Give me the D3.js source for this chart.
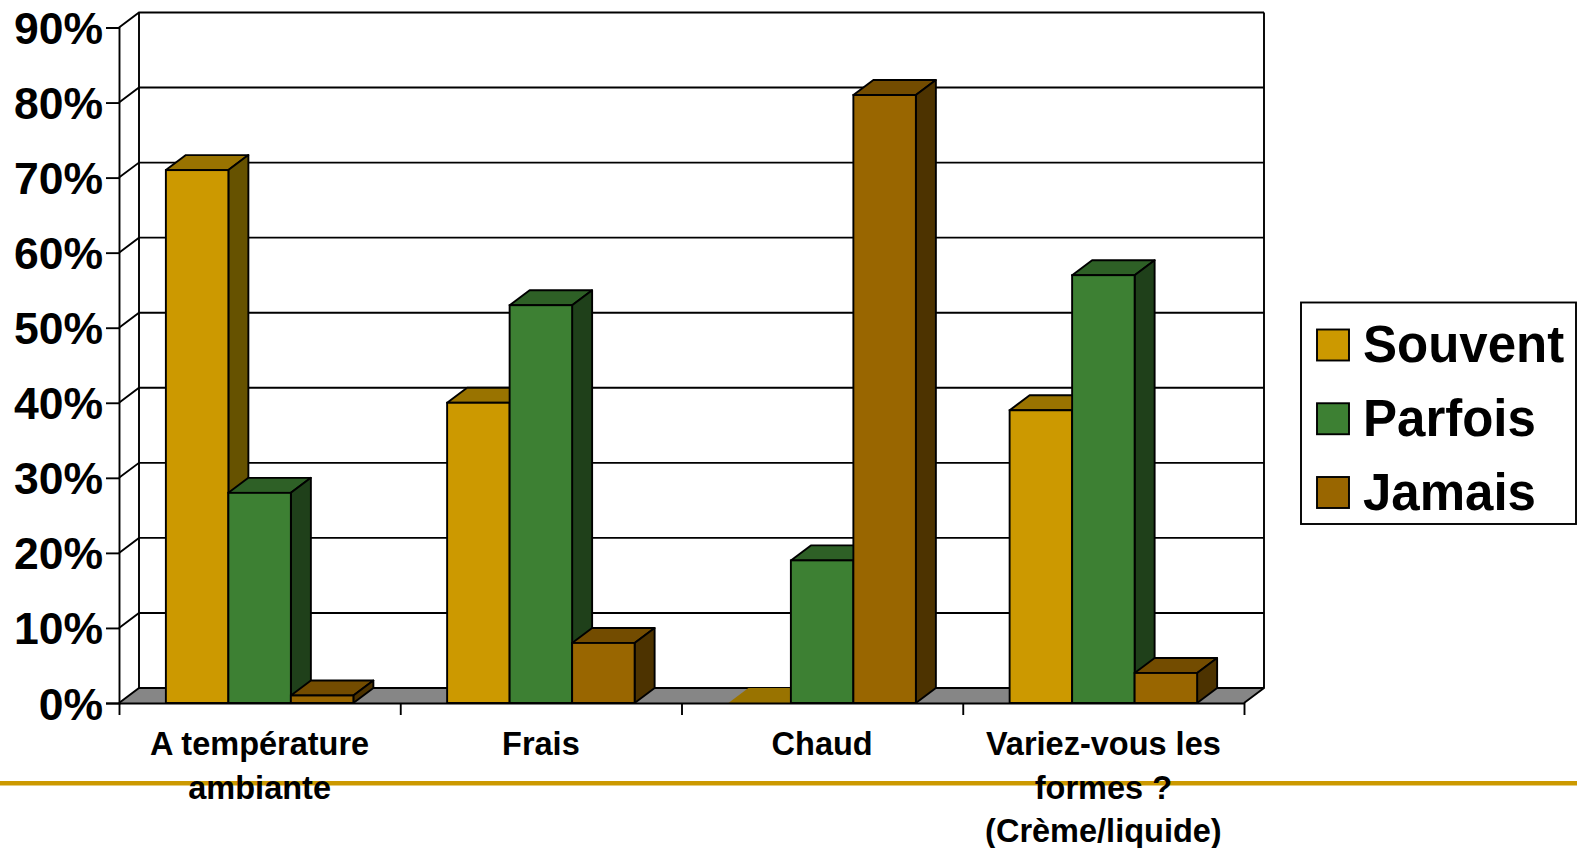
<!DOCTYPE html>
<html>
<head>
<meta charset="utf-8">
<style>
  html, body { margin: 0; padding: 0; background: #fff; }
  svg { display: block; }
  text { font-family: "Liberation Sans", Arial, sans-serif; font-weight: bold; fill: #000; }
</style>
<script src="https://cdn.jsdelivr.net/npm/d3@7"></script>
</head>
<body>
<div id="chart"></div>
<script>
// Values, in %
var categories = ["A température", "Frais", "Chaud", "Variez-vous"];
var categoryLines = [
  ["A température", "ambiante"],
  ["Frais"],
  ["Chaud"],
  ["Variez-vous les", "formes ?", "(Crème/liquide)"]
];
var seriesNames = ["Souvent", "Parfois", "Jamais"];
var souvent = [71, 40, 0, 39];
var parfois = [28, 53, 19, 57];
var jamais = [1, 8, 81, 4];
var seriesValues = [souvent, parfois, jamais];
var yTicks = [0, 10, 20, 30, 40, 50, 60, 70, 80, 90];

var front = ["#cc9900", "#3d8033", "#996600"];
var top3d = ["#997300", "#2e6026", "#734c00"];
var side = ["#665200", "#1f401a", "#4d3300"];

var width = 1577, height = 848;
var left = 119, right = 1244, bottom = 703, topY = 27.5;
var dx = 20, dy = 15;
var lw = 1.9;

var svg = d3.select("#chart").append("svg")
  .attr("width", width)
  .attr("height", height)
  .attr("viewBox", "0 0 " + width + " " + height);

var y = d3.scaleLinear().domain([0, 90]).range([bottom, topY]);
var x0 = d3.scaleBand().domain(categories).range([left, right]).paddingInner(1 / 3).paddingOuter(1 / 6);
var x1 = d3.scaleBand().domain(seriesNames).range([0, x0.bandwidth()]);
var edges = d3.scaleLinear().domain([0, categories.length]).range([left, right]);

function poly(pts) { return "M" + pts.map(function (p) { return p.join(","); }).join("L") + "Z"; }

// slide rule line sits under everything
svg.append("rect")
  .attr("x", 0).attr("y", 781).attr("width", width).attr("height", 4.5)
  .attr("fill", "#cc9900");

// floor
svg.append("path")
  .attr("d", poly([[left, y(0)], [left + dx, y(0) - dy], [right + dx, y(0) - dy], [right, y(0)]]))
  .attr("fill", "#868686").attr("stroke", "none");

// walls and gridlines
var grid = svg.append("g").attr("fill", "none").attr("stroke", "#000").attr("stroke-width", lw);
grid.selectAll("path.grid")
  .data(yTicks)
  .enter().append("path")
  .attr("class", "grid")
  .attr("d", function (d) {
    return "M" + left + "," + y(d) + "L" + (left + dx) + "," + (y(d) - dy) + "L" + (right + dx) + "," + (y(d) - dy);
  });
grid.append("path")
  .attr("d", "M" + (left + dx) + "," + (y(90) - dy) + "V" + (y(0) - dy) +
    "M" + (right + dx) + "," + (y(90) - dy) + "V" + (y(0) - dy) + "L" + right + "," + y(0));

// bars, left to right so each one overlaps the side of the previous
categories.forEach(function (cat, c) {
  var g = svg.append("g").attr("transform", "translate(" + x0(cat) + ",0)");
  seriesNames.forEach(function (name, s) {
    var v = seriesValues[s][c];
    var a = x1(name), b = a + x1.bandwidth(), yt = y(v), yb = y(0);
    var noBar = v === 0;
    var stroke = noBar ? "none" : "#000";
    g.append("path")
      .attr("d", poly([[a, yt], [a + dx, yt - dy], [b + dx, yt - dy], [b, yt]]))
      .attr("fill", top3d[s]).attr("stroke", stroke).attr("stroke-width", lw).attr("stroke-linejoin", "round");
    if (noBar) return;
    g.append("path")
      .attr("d", poly([[b, yt], [b + dx, yt - dy], [b + dx, yb - dy], [b, yb]]))
      .attr("fill", side[s]).attr("stroke", "#000").attr("stroke-width", lw).attr("stroke-linejoin", "round");
    g.append("rect")
      .attr("x", a).attr("y", yt).attr("width", b - a).attr("height", yb - yt)
      .attr("fill", front[s]).attr("stroke", "#000").attr("stroke-width", lw);
  });
});

// y axis
var yAxis = svg.append("g")
  .attr("transform", "translate(" + left + ",0)")
  .call(d3.axisLeft(y).tickValues(yTicks).tickFormat(function (d) { return d + "%"; }).tickSize(13).tickPadding(3));
yAxis.selectAll("path.domain").attr("stroke", "#000").attr("stroke-width", lw);
yAxis.selectAll("line").attr("stroke", "#000").attr("stroke-width", lw);
yAxis.selectAll("text")
  .attr("font-family", null).attr("font-size", 44.5).attr("dy", null).attr("y", 16);

// x axis, ticks on the category edges
var xAxis = svg.append("g")
  .attr("transform", "translate(0," + bottom + ")")
  .call(d3.axisBottom(edges).ticks(categories.length).tickFormat("").tickSize(12).tickSizeOuter(0));
xAxis.selectAll("path.domain").attr("stroke", "#000").attr("stroke-width", 2.2);
xAxis.selectAll("line").attr("stroke", "#000").attr("stroke-width", lw);

var labels = svg.append("g").attr("font-size", 32.5).attr("text-anchor", "middle");
categories.forEach(function (cat, c) {
  labels.append("g").selectAll("text")
    .data(categoryLines[c])
    .enter().append("text")
    .attr("x", x0(cat) + x0.bandwidth() / 2)
    .attr("y", function (d, i) { return 755 + i * 43.5; })
    .text(function (d) { return d; });
});

// legend
var legend = svg.append("g");
legend.append("rect")
  .attr("x", 1301).attr("y", 302.5).attr("width", 275).attr("height", 221.5)
  .attr("fill", "#fff").attr("stroke", "#000").attr("stroke-width", lw);
var legendY = d3.scalePoint().domain(seriesNames).range([329.5, 477]);
var item = legend.selectAll("g.item")
  .data(seriesNames)
  .enter().append("g")
  .attr("class", "item")
  .attr("transform", function (d) { return "translate(1317," + legendY(d) + ")"; });
item.append("rect")
  .attr("width", 32).attr("height", 31)
  .attr("fill", function (d, i) { return front[i]; })
  .attr("stroke", "#000").attr("stroke-width", lw);
item.append("text")
  .attr("x", 46).attr("y", 32.5)
  .attr("font-size", 51)
  .text(function (d) { return d; });
</script>
</body>
</html>
